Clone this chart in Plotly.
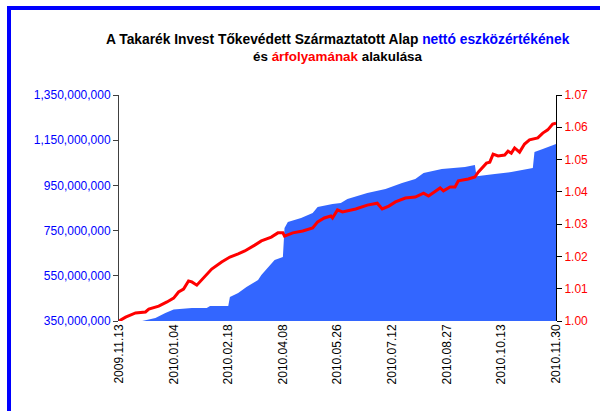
import plotly.graph_objects as go

# x-axis category labels (every 33rd trading day)
tick_labels = ["2009.11.13", "2010.01.04", "2010.02.18", "2010.04.08", "2010.05.26",
               "2010.07.12", "2010.08.27", "2010.10.13", "2010.11.30"]
tick_index = [0, 33, 66, 99, 132, 165, 198, 231, 264]

# Net asset value (HUF) — trading-day index and value
nav_day = [14, 22, 28, 33, 44, 53, 55, 66, 67, 72, 77, 84, 86, 90, 94, 99, 100, 102,
           110, 117, 120, 129, 134, 138, 150, 161, 171, 179, 184, 195, 200, 209, 215,
           216, 227, 237, 250, 251, 256, 262, 264]
nav_value = [350000000, 363000000, 385000000, 401000000, 408000000, 408000000, 416000000,
             416000000, 456000000, 474000000, 500000000, 531000000, 554000000, 589000000,
             620000000, 633000000, 762000000, 788000000, 806000000, 828000000, 854000000,
             868000000, 872000000, 890000000, 916000000, 934000000, 961000000, 978000000,
             1005000000, 1023000000, 1027000000, 1031000000, 1040000000, 991000000,
             1000000000, 1009000000, 1027000000, 1098000000, 1111000000, 1129000000,
             1133000000]

# Unit price — trading-day index and value
price_day = [0, 4, 10, 16, 18, 24, 29, 33, 36, 39, 42, 44, 47, 51, 56, 62, 67, 72, 76,
             82, 86, 92, 96, 99, 100, 105, 111, 117, 120, 124, 128, 129, 132, 135, 143,
             150, 156, 159, 163, 167, 173, 179, 184, 187, 191, 194, 196, 200, 203, 205,
             211, 215, 217, 220, 222, 224, 226, 229, 233, 235, 237, 239, 242, 245, 248,
             253, 256, 259, 262, 264]
price_value = [1.0000, 1.0012, 1.0025, 1.0028, 1.0037, 1.0046, 1.0059, 1.0071, 1.0090,
               1.0099, 1.0124, 1.0121, 1.0111, 1.0133, 1.0161, 1.0183, 1.0198, 1.0208,
               1.0217, 1.0235, 1.0248, 1.0260, 1.0273, 1.0273, 1.0263, 1.0273, 1.0279,
               1.0288, 1.0307, 1.0319, 1.0325, 1.0319, 1.0344, 1.0338, 1.0347, 1.0359,
               1.0365, 1.0347, 1.0356, 1.0369, 1.0381, 1.0384, 1.0396, 1.0387, 1.0400,
               1.0412, 1.0403, 1.0415, 1.0415, 1.0434, 1.0440, 1.0446, 1.0461, 1.0480,
               1.0489, 1.0492, 1.0517, 1.0511, 1.0514, 1.0526, 1.0520, 1.0536, 1.0523,
               1.0548, 1.0561, 1.0567, 1.0582, 1.0592, 1.0610, 1.0613]

FONT = "Liberation Sans, Arial, sans-serif"

fig = go.Figure()
fig.add_trace(go.Scatter(x=nav_day, y=nav_value, mode="lines", fill="tozeroy",
                         line=dict(color="#3366FF", width=0), fillcolor="#3366FF",
                         name="nettó eszközérték", yaxis="y"))
fig.add_trace(go.Scatter(x=price_day, y=price_value, mode="lines",
                         line=dict(color="#FF0000", width=3),
                         name="árfolyam", yaxis="y2"))

W = 437.0
H = 226.0
def px(x):
    return (x - 119) / W
def py(y):
    return (321 - y) / H

fig.update_layout(
    width=600, height=411,
    margin=dict(l=119, r=44, t=95, b=90),
    paper_bgcolor="white", plot_bgcolor="white",
    showlegend=False,
    font=dict(family=FONT, size=12, color="black"),
    xaxis=dict(range=[0, 264], tickmode="array", tickvals=tick_index, ticktext=tick_labels,
               tickangle=-90, showgrid=False, zeroline=False, showline=False, ticks="",
               tickfont=dict(size=12, color="black")),
    yaxis=dict(range=[350000000, 1350000000], tickmode="array",
               tickvals=[350000000, 550000000, 750000000, 950000000, 1150000000, 1350000000],
               tickformat=",d", showgrid=False, zeroline=False, showline=True,
               linecolor="#404040", linewidth=1, ticks="outside", ticklen=5,
               tickcolor="#404040", tickfont=dict(size=12, color="#0000FF")),
    yaxis2=dict(range=[1.0, 1.07], overlaying="y", side="right", tickmode="array",
                tickvals=[1.00, 1.01, 1.02, 1.03, 1.04, 1.05, 1.06, 1.07],
                tickformat=".2f", showgrid=False, zeroline=False, showline=True,
                linecolor="black", linewidth=1, ticks="outside", ticklen=5,
                tickcolor="black", tickfont=dict(size=12, color="#FF0000")),
    shapes=[
        dict(type="line", xref="paper", yref="paper", x0=px(7), x1=px(600), y0=py(8), y1=py(8),
             line=dict(color="#0000FF", width=4)),
        dict(type="line", xref="paper", yref="paper", x0=px(9), x1=px(9), y0=py(6), y1=py(411),
             line=dict(color="#0000FF", width=4)),
    ],
    annotations=[
        dict(xref="paper", yref="paper", x=0.5, y=py(39), xanchor="center", yanchor="middle",
             showarrow=False, font=dict(family=FONT, size=13.8, color="black"),
             text="<b>A Takarék Invest Tőkevédett Származtatott Alap "
                  "<span style='color:#0000FF'>nettó eszközértékének</span></b>"),
        dict(xref="paper", yref="paper", x=0.5, y=py(56), xanchor="center", yanchor="middle",
             showarrow=False, font=dict(family=FONT, size=13.4, color="black"),
             text="<b>és <span style='color:#FF0000'>árfolyamának</span> alakulása</b>"),
    ],
)

fig.write_html("out.html", config={"displayModeBar": False},
               post_script="document.body.style.margin='0';document.body.style.overflow='hidden';")
